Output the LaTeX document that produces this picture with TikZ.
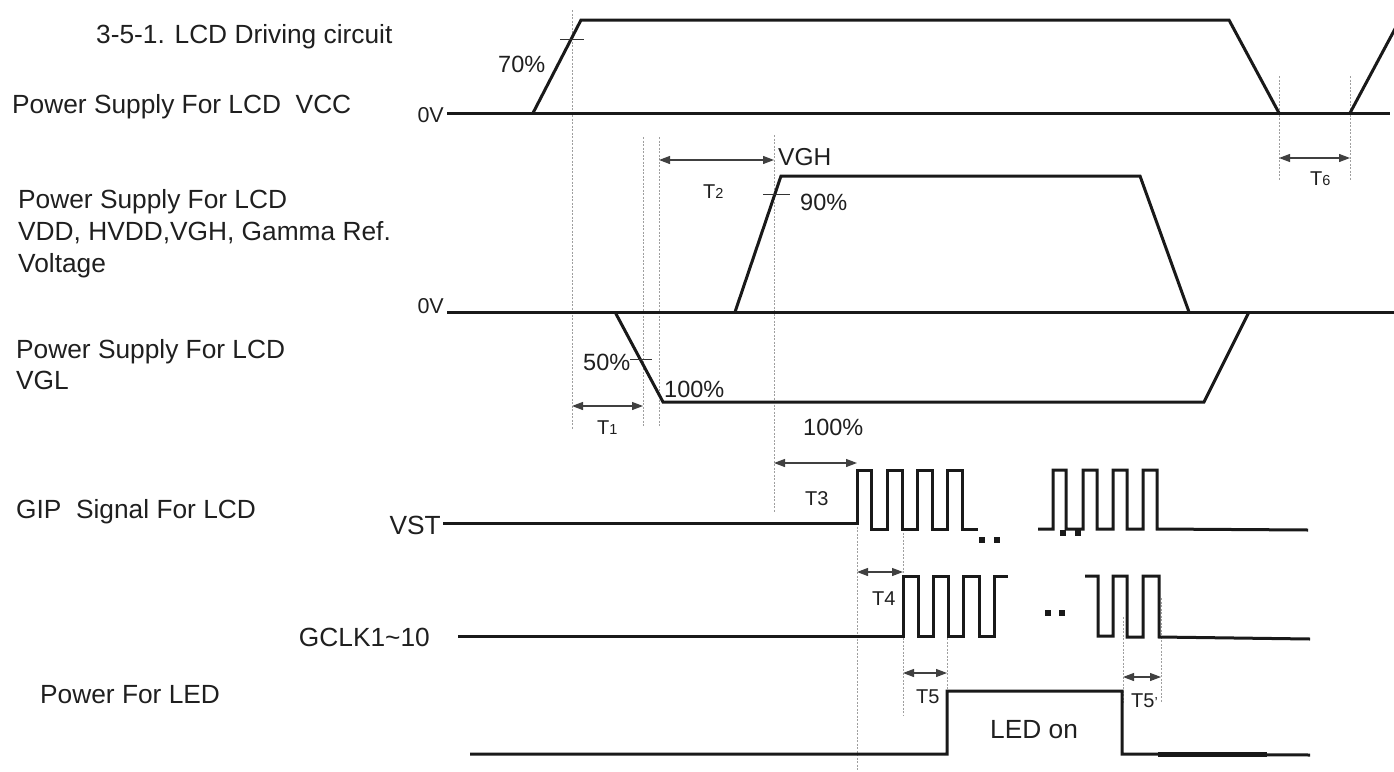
\documentclass[tikz,border=0pt]{standalone}
\usepackage{fontspec}
\setmainfont{Liberation Sans}
\usetikzlibrary{arrows.meta}
\begin{document}
\begin{tikzpicture}[x=1pt,y=-1pt,
  lab/.style={font=\fontsize{26.3}{30}\selectfont, inner sep=0pt, text=black!88},
  pct/.style={font=\fontsize{23.5}{28}\selectfont, inner sep=0pt, text=black!88, anchor=base west},
  zero/.style={font=\fontsize{21.5}{26}\selectfont, inner sep=0pt, text=black!88, anchor=base east},
  tlab/.style={font=\fontsize{20}{22}\selectfont, inner sep=0pt, anchor=base west, text=black!88},
  wave/.style={line width=3pt, line join=miter, black!90},
  guide/.style={gray!75, line width=0.7pt, dash pattern=on 2pt off 1.5pt},
  dim/.style={black!75, line width=1.2pt, {Triangle[length=11pt,width=8pt]}-{Triangle[length=11pt,width=8pt]}},
  tick/.style={black!80, line width=0.8pt},
  dot/.style={fill=black!90, draw=none}]
\useasboundingbox (0,0) rectangle (1394,771);
\newcommand{\sm}[1]{{\fontsize{14.5}{15}\selectfont #1}}

% ---------- left labels ----------
\node[lab, anchor=base west] (title) at (96,43) {3-5-1. LCD Driving circuit};
\node[lab, anchor=base west] (lvcc) at (12,113) {Power Supply For LCD\ \ VCC};
\node[lab, anchor=base west] (lvdd1) at (18,208) {Power Supply For LCD};
\node[lab, anchor=base west] (lvdd2) at (18,240) {VDD, HVDD,VGH, Gamma Ref.};
\node[lab, anchor=base west] (lvdd3) at (18,272) {Voltage};
\node[lab, anchor=base west] (lvgl1) at (16,358) {Power Supply For LCD};
\node[lab, anchor=base west] (lvgl2) at (16,389) {VGL};
\node[lab, anchor=base west] (lgip) at (16,518) {GIP\ \ Signal For LCD};
\node[lab, anchor=base west] (lled) at (40,703) {Power For LED};

\node[zero] (zv1) at (444,122) {0V};
\node[zero] (zv2) at (444,313) {0V};
\node[lab, anchor=base east] (vst) at (441,534) {VST};
\node[lab, anchor=base east] (gclk) at (430,646) {GCLK1\char`~10};

% ---------- guides ----------
\coordinate (g1t) at (572,10);   \coordinate (g1b) at (572,430);
\coordinate (g2t) at (643,137);  \coordinate (g2b) at (643,427);
\coordinate (g3t) at (659,137);  \coordinate (g3b) at (659,427);
\coordinate (g4t) at (774,135);  \coordinate (g4b) at (774,512);
\coordinate (g5t) at (857,523);  \coordinate (g5b) at (857,771);
\coordinate (g6t) at (903,522);  \coordinate (g6b) at (903,715);
\coordinate (g7t) at (947,617);  \coordinate (g7b) at (947,690);
\coordinate (g8t) at (1123,617); \coordinate (g8b) at (1123,703);
\coordinate (g9t) at (1161,598); \coordinate (g9b) at (1161,703);
\coordinate (g10t) at (1279,76); \coordinate (g10b) at (1279,181);
\coordinate (g11t) at (1350,76); \coordinate (g11b) at (1350,181);
\foreach \g in {1,...,11} \draw[guide] (g\g t) -- (g\g b);

% ---------- VCC ----------
\draw[wave] (447,113) -- (1390,113);
\draw[wave] (533,113) -- (581,20) -- (1229,20) -- (1279,113);
\draw[wave] (1350,113) -- (1396,27);
\draw[tick] (560,39) -- (584,39);
\node[pct] (p70) at (498,72) {70\%};

% ---------- VGH / VGL ----------
\draw[wave] (447,312) -- (1394,312);
\draw[wave] (735,312) -- (781,176) -- (1140,176) -- (1189,312);
\draw[tick] (763,194) -- (790,194);
\node[pct] (p90) at (800,210) {90\%};
\node[lab, anchor=base west, font=\fontsize{24.5}{28}\selectfont] (vgh) at (778,165) {VGH};

\draw[wave] (615,312) -- (663,402) -- (1204,402) -- (1249,312);
\draw[tick] (630,359) -- (652,359);
\node[pct] (p50) at (583,370) {50\%};
\node[pct] (p100a) at (664,397) {100\%};
\node[pct] (p100b) at (803,435) {100\%};

% ---------- VST ----------
\draw[wave] (443,523) -- (857,523) -- (857,470) -- (871,470) -- (871,529) -- (887,529)
  -- (887,470) -- (902,470) -- (902,529) -- (917,529) -- (917,470) -- (932,470)
  -- (932,529) -- (947,529) -- (947,470) -- (962,470) -- (962,529) -- (978,529);
\draw[wave] (1038,529) -- (1053,529) -- (1053,470) -- (1066,470) -- (1066,529) -- (1083,529)
  -- (1083,470) -- (1097,470) -- (1097,529) -- (1113,529) -- (1113,470) -- (1127,470)
  -- (1127,529) -- (1143,529) -- (1143,470) -- (1157,470) -- (1157,529) -- (1308,530);
\foreach \x/\y in {982/540, 997/540, 1063/533, 1078/533}
  \fill[dot] (\x-2.7,\y-2.7) rectangle (\x+2.7,\y+2.7);

% ---------- GCLK ----------
\draw[wave] (458,636) -- (903,636) -- (903,576) -- (918,576) -- (918,636) -- (933,636)
  -- (933,576) -- (948,576) -- (948,636) -- (963,636) -- (963,576) -- (979,576)
  -- (979,636) -- (994,636) -- (994,576) -- (1008,576);
\draw[wave] (1085,576) -- (1098,576) -- (1098,636) -- (1113,636) -- (1113,576) -- (1127,576)
  -- (1127,637) -- (1143,637) -- (1143,576) -- (1159,576) -- (1159,637) -- (1310,639);
\foreach \x/\y in {1048/613, 1062/613}
  \fill[dot] (\x-2.7,\y-2.7) rectangle (\x+2.7,\y+2.7);

% ---------- LED ----------
\draw[wave] (470,754) -- (947,754) -- (947,691) -- (1122,691) -- (1122,754) -- (1310,755);
\draw[line width=4.6pt, black!90] (1158,754.5) -- (1267,754.5);
\node[lab, anchor=base west] (ledon) at (990,738) {LED on};

% ---------- dimension arrows ----------
\coordinate (a1l) at (572,406);  \coordinate (a1r) at (643,406);
\coordinate (a2l) at (659,160);  \coordinate (a2r) at (774,160);
\coordinate (a3l) at (774,463);  \coordinate (a3r) at (857,463);
\coordinate (a4l) at (857,572);  \coordinate (a4r) at (903,572);
\coordinate (a5l) at (903,673);  \coordinate (a5r) at (947,673);
\coordinate (a6l) at (1123,677); \coordinate (a6r) at (1161,677);
\coordinate (a7l) at (1279,158); \coordinate (a7r) at (1350,158);
\draw[dim] (a1l) -- (a1r);
\draw[dim] (a2l) -- (a2r);
\draw[dim] (a3l) -- (a3r);
\draw[dim] (a4l) -- (a4r);
\draw[dim] (a5l) -- (a5r);
\draw[dim] (a6l) -- (a6r);
\draw[dim] (a7l) -- (a7r);

\node[tlab] (t1) at (597,434) {T\sm{1}};
\node[tlab] (t2) at (703,198) {T\sm{2}};
\node[tlab] (t3) at (805,505) {T3};
\node[tlab] (t4) at (872,605) {T4};
\node[tlab] (t5) at (916,703) {T5};
\node[tlab] (t5p) at (1131,707) {T5\sm{'}};
\node[tlab] (t6) at (1310,185) {T\sm{6}};
\end{tikzpicture}
\end{document}
